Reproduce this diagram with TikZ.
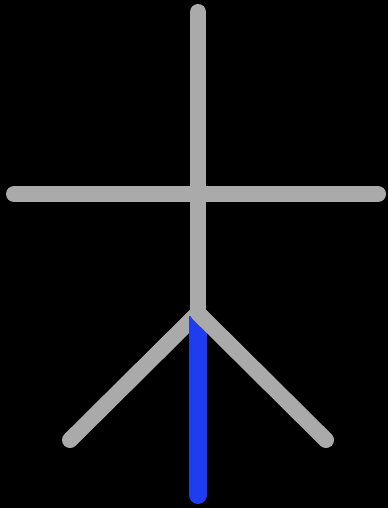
\documentclass[tikz,border=0pt]{standalone}
\definecolor{limb}{RGB}{170,170,170}
\definecolor{bluelimb}{RGB}{30,60,240}
\tikzset{graystroke/.style={draw=limb,line width=16pt,line cap=round},
bluestroke/.style={draw=bluelimb,line width=18pt,line cap=butt}}
\begin{document}
\begin{tikzpicture}[x=1pt,y=-1pt]
\fill[black] (0,0) rectangle (388,508);
\useasboundingbox (0,0) rectangle (388,508);
\coordinate (top) at (198,12);
\coordinate (hip) at (198,313);
\coordinate (la) at (14,194);
\coordinate (ra) at (378,194);
\coordinate (lf) at (70,440);
\coordinate (rf) at (326,440);
\coordinate (bt) at (198,316);
\coordinate (bb) at (198,495);
\draw[graystroke] (top) -- (hip);
\draw[graystroke] (la) -- (ra);
\draw[graystroke] (hip) -- (lf);
\draw[bluestroke] (bt) -- (bb);
\fill[bluelimb] (bb) circle (9pt);
\draw[graystroke] (hip) -- (rf);
\end{tikzpicture}
\end{document}
